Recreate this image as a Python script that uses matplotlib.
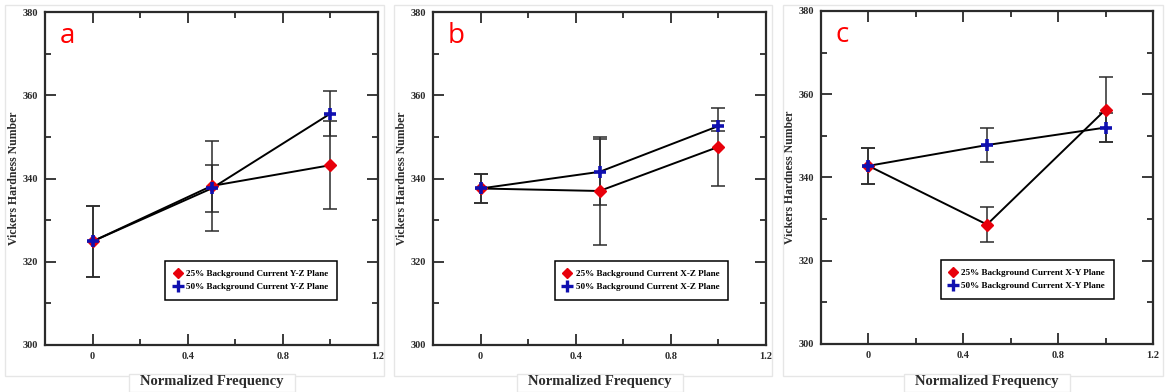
import numpy as np
import matplotlib.pyplot as plt
from matplotlib.patches import Rectangle
from matplotlib.lines import Line2D
from matplotlib.ticker import MultipleLocator

# data
freq = [0, 0.5, 1.0]
panels = ['a', 'b', 'c']
planes = ['Y-Z', 'X-Z', 'X-Y']

hv25 = [[324.9, 338.2, 343.2],
        [337.6, 337.0, 347.6],
        [342.8, 328.7, 356.3]]
err25 = [[8.5, 10.8, 10.6],
         [3.4, 13.0, 9.4],
         [4.4, 4.2, 7.8]]
hv50 = [[324.9, 337.6, 355.6],
        [337.6, 341.6, 352.6],
        [342.8, 347.8, 352.0]]
err50 = [[8.5, 5.6, 5.4],
         [3.4, 8.0, 1.2],
         [4.4, 4.0, 3.5]]

W, H = 1165, 392
fig = plt.figure(figsize=(W / 100, H / 100), dpi=100, facecolor='white')

# axes boxes in pixels: left, right, top, bottom
boxes = [(45, 378, 12, 345), (433, 766, 12, 345), (821, 1153, 11, 344)]
frames = [(5, 384), (394, 772), (783, 1163)]
legend_right = [0.877, 0.886, 0.882]

serif = 'Liberation Serif'
red = '#e8000b'
blue = '#1010b0'
ink = '#2b2b2b'

for i in range(3):
    # faint screenshot frame around each panel
    fx0, fx1 = frames[i]
    fig.patches.append(Rectangle((fx0 / W, 1 - 376 / H), (fx1 - fx0) / W, (376 - 5) / H,
                                 transform=fig.transFigure, fill=False,
                                 edgecolor='#e6e6e6', lw=1))

    l, r, t, b = boxes[i]
    ax = fig.add_axes([l / W, 1 - b / H, (r - l) / W, (b - t) / H])

    # error bars
    ax.errorbar(freq, hv25[i], yerr=err25[i], fmt='none', ecolor=ink,
                elinewidth=1.1, capsize=4.7, capthick=1.1, zorder=2)
    ax.errorbar(freq, hv50[i], yerr=err50[i], fmt='none', ecolor=ink,
                elinewidth=1.1, capsize=4.7, capthick=1.1, zorder=2)
    # lines and markers
    ax.plot(freq, hv25[i], color='black', lw=1.4, zorder=3)
    ax.plot(freq, hv50[i], color='black', lw=1.4, zorder=3)
    ax.plot(freq, hv25[i], ls='none', marker='D', ms=6.5, mfc=red, mec=red, zorder=4)
    ax.plot(freq, hv50[i], ls='none', marker='+', ms=9, mew=2.6, mec=blue, zorder=5)

    ax.set_xlim(-0.2, 1.2)
    ax.set_ylim(300, 380)
    ax.xaxis.set_minor_locator(MultipleLocator(0.2))
    ax.yaxis.set_major_locator(MultipleLocator(20))
    ax.yaxis.set_minor_locator(MultipleLocator(10))
    ax.set_xticks([0, 0.4, 0.8, 1.2])
    ax.set_xticklabels(['0', '0.4', '0.8', '1.2'])
    ax.tick_params(which='both', direction='in', top=True, right=True,
                   width=1.3, color=ink, labelsize=7.5, labelcolor=ink)
    ax.tick_params(which='major', length=8, pad=5)
    ax.tick_params(which='minor', length=4)
    for lab in ax.get_xticklabels() + ax.get_yticklabels():
        lab.set_family(serif)
        lab.set_fontweight('bold')
    for s in ax.spines.values():
        s.set_linewidth(1.6)
        s.set_color(ink)

    ax.set_ylabel('Vickers Hardness Number', family=serif, fontweight='bold',
                  fontsize=8.5, color=ink)
    ax.yaxis.set_label_coords(-25 / (r - l), 0.5)

    handles = [Line2D([], [], ls='none', marker='D', ms=5.5, mfc=red, mec=red),
               Line2D([], [], ls='none', marker='+', ms=8, mew=2.4, mec=blue)]
    labels = ['25% Background Current ' + planes[i] + ' Plane',
              '50% Background Current ' + planes[i] + ' Plane']
    leg = ax.legend(handles, labels, loc='lower right',
                    bbox_to_anchor=(legend_right[i], 0.135),
                    prop={'family': serif, 'weight': 'bold', 'size': 6.6},
                    fancybox=False, framealpha=1, edgecolor='black',
                    handlelength=0.8, handletextpad=0.5, borderpad=0.95,
                    labelspacing=0.55, borderaxespad=0)
    leg.get_frame().set_linewidth(1.1)

    ax.text(0.045, 0.97, panels[i], transform=ax.transAxes, color='red',
            fontsize=20, ha='left', va='top', family='Open Sans')

    # white box holding the x label
    cx = (l + r) / 2
    fig.patches.append(Rectangle(((cx - 83) / W, 0), 166 / W, (H - 376) / H + 0.004,
                                 transform=fig.transFigure, facecolor='white',
                                 edgecolor='#e6e6e6', lw=1, zorder=5))
    fig.text(cx / W, 1 - 381 / H, 'Normalized Frequency', family=serif,
             fontweight='bold', fontsize=10.5, color=ink, ha='center',
             va='center', zorder=6)

plt.savefig('out.png', dpi=100, facecolor='white')
